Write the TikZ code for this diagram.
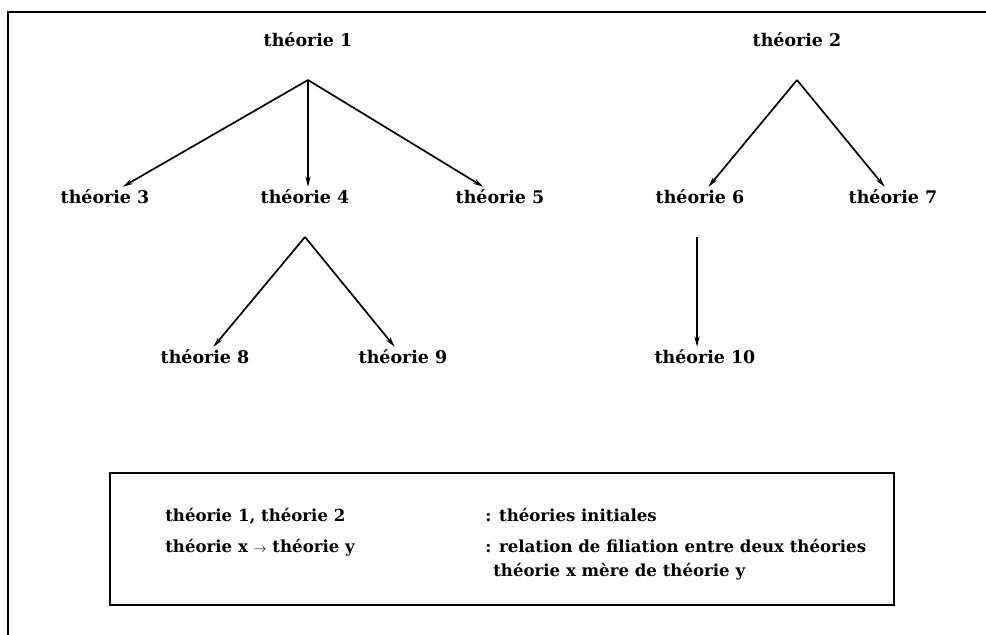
\documentclass[tikz,border=0pt]{standalone}
\usepackage{fontspec}
\setmainfont{DejaVu Serif}
\usetikzlibrary{arrows.meta, positioning}

\begin{document}
\begin{tikzpicture}[x=0.025cm, y=-0.025cm,
        every node/.style={font=\bfseries\fontsize{12.4}{14}\selectfont},
        theo/.style={inner sep=2pt},
        arrow/.style={-{Stealth[length=2.6mm, width=1.3mm]}, line width=1.2pt},
        legend/.style={anchor=base west, inner sep=0pt, font=\bfseries\fontsize{11.8}{14}\selectfont}
    ]
    \useasboundingbox (0,0) rectangle (986,635);
%
    % Frame
    \draw[line width=2pt] (8,635) -- (8,12) -- (986,12);
%
    % Left tree
    \node[theo] (t1) at (308, 40) {théorie 1};
    \node[theo] (t3) at (105, 197) {théorie 3};
    \node[theo] (t4) at (305, 197) {théorie 4};
    \node[theo] (t5) at (500, 197) {théorie 5};
    \node[theo] (t8) at (205, 357) {théorie 8};
    \node[theo] (t9) at (403, 357) {théorie 9};
    \coordinate (a1) at (308, 80);
    \coordinate (a4) at (305, 237);
%
    \draw[arrow] (a1) -- (t3);
    \draw[arrow] (a1) -- (a1 |- t4.north);
    \draw[arrow] (a1) -- (t5);
    \draw[arrow] (a4) -- (t8);
    \draw[arrow] (a4) -- (t9);
%
    % Right tree
    \node[theo] (t2) at (797, 40) {théorie 2};
    \node[theo] (t6) at (700, 197) {théorie 6};
    \node[theo] (t7) at (893, 197) {théorie 7};
    \node[theo] (t10) at (705, 357) {théorie 10};
    \coordinate (a2) at (797, 80);
    \coordinate (a6) at (697, 237);
%
    \draw[arrow] (a2) -- (t6);
    \draw[arrow] (a2) -- (t7);
    \draw[arrow] (a6) -- (a6 |- t10.north);
%
    % Legend
    \draw[line width=1.8pt] (110,473) rectangle (894,605);
    \node[legend] (l1) at (165, 521) {théorie 1, théorie 2};
    \node[legend] (r1) at (485, 521) {: théories initiales};
    \node[legend] (l2) at (165, 552) {théorie x {\small$\rightarrow$} théorie y};
    \node[legend] (r2) at (485, 552) {: relation de filiation entre deux théories};
    \node[legend] (r3) at (493, 576) {théorie x mère de théorie y};
%
\end{tikzpicture}
\end{document}
